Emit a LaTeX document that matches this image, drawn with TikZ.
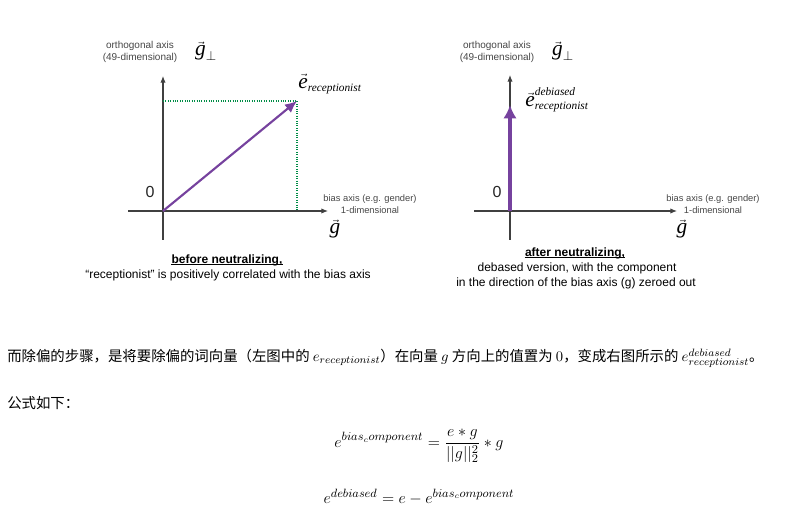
\documentclass[tikz,border=0pt]{standalone}
\usepackage{fontspec}
\setmainfont{Liberation Sans}
\newfontfamily\cjk{Noto Sans CJK SC}
\newfontfamily\serifit{Liberation Serif}[ItalicFont=* Italic]
\newcommand{\bigit}{\serifit\itshape\fontsize{16}{18}\selectfont}
\newcommand{\smit}{\serifit\itshape\fontsize{8.5}{10}\selectfont}
\usetikzlibrary{arrows.meta}
\definecolor{vecpurple}{RGB}{118,66,158}
\definecolor{dotgreen}{RGB}{0,140,70}
\definecolor{labelgray}{RGB}{70,70,70}
\begin{document}
\begin{tikzpicture}[x=0.75pt,y=-0.75pt,
  axis/.style={line width=0.8pt,black!75,-{Latex[length=5pt,width=4pt]}},
  small/.style={font=\fontsize{7.5}{9}\selectfont,text=labelgray,align=center,inner sep=0pt},
  tiny/.style={font=\fontsize{7}{8.6}\selectfont,text=labelgray,align=center,inner sep=0pt},
  caption/.style={font=\fontsize{9}{10.8}\selectfont,align=center,inner sep=0pt},
  uline/.style={line width=0.6pt},
  zero/.style={font=\fontsize{12}{13}\selectfont,text=black!85,inner sep=0pt},
  vecsym/.style={inner sep=0pt},
  guide/.style={dotgreen,densely dotted,line width=0.8pt},
  txt/.style={font=\fontsize{10.8}{13}\selectfont,inner sep=0pt,anchor=west},
  formula/.style={font=\fontsize{12.5}{15}\selectfont,inner sep=0pt}]
\useasboundingbox (0,0) rectangle (799,516);

% ---------- left diagram ----------
\coordinate (O1) at (163,211);
\coordinate (Yt1) at (163,76);
\coordinate (Yb1) at (163,240);
\coordinate (Xl1) at (128,211);
\coordinate (Xr1) at (328,211);
\coordinate (E1) at (297,101);
\coordinate (P1) at (163,101);
\coordinate (Q1) at (297,211);
\draw[axis] (Yb1) -- (Yt1);
\draw[axis] (Xl1) -- (Xr1);
\draw[guide] (P1) -- (E1) -- (Q1);
\draw[vecpurple,line width=1.6pt,-{Latex[length=9pt,width=8pt]}] (O1) -- (E1);
\node[small] (orth1) at (140,52) {orthogonal axis\\(49-dimensional)};
\node[vecsym] (gp1) at (206,51) {$\vec{\mbox{\bigit g}}_{\mbox{\fontsize{10}{10}\selectfont$\perp$}}$};
\node[vecsym] (er1) at (330,84) {$\vec{\mbox{\bigit e}}_{\mbox{\smit receptionist}}$};
\node[zero] (z1) at (150,192) {0};
\node[tiny] (b1) at (370,204) {bias axis (e.g. gender)\\1-dimensional};
\node[vecsym] (g1) at (335,229) {$\vec{\mbox{\bigit g}}$};
\node[caption] (c1a) at (227,260) {\textbf{before neutralizing,}};
\draw[uline] ([yshift=-1.2pt]c1a.base west) -- ([yshift=-1.2pt]c1a.base east);
\node[caption] (c1b) at (228,275) {“receptionist” is positively correlated with the bias axis};

% ---------- right diagram ----------
\coordinate (O2) at (510,211);
\coordinate (Yt2) at (510,75);
\coordinate (Yb2) at (510,240);
\coordinate (Xl2) at (474,211);
\coordinate (Xr2) at (677,211);
\coordinate (E2) at (510,105);
\draw[axis] (Yb2) -- (Yt2);
\draw[axis] (Xl2) -- (Xr2);
\draw[vecpurple,line width=2.6pt,-{Latex[length=10pt,width=10pt]}] (O2) -- (E2);
\node[small] (orth2) at (497,52) {orthogonal axis\\(49-dimensional)};
\node[vecsym] (gp2) at (563,51) {$\vec{\mbox{\bigit g}}_{\mbox{\fontsize{10}{10}\selectfont$\perp$}}$};
\node[vecsym] (ed2) at (557,100) {$\vec{\mbox{\bigit e}}^{\mbox{\smit debiased}}_{\mbox{\smit receptionist}}$};
\node[zero] (z2) at (497,192) {0};
\node[tiny] (b2) at (713,204) {bias axis (e.g. gender)\\1-dimensional};
\node[vecsym] (g2) at (682,229) {$\vec{\mbox{\bigit g}}$};
\node[caption] (c2a) at (575,253) {\textbf{after neutralizing,}};
\draw[uline] ([yshift=-1.2pt]c2a.base west) -- ([yshift=-1.2pt]c2a.base east);
\node[caption] (c2b) at (577,268) {debased version, with the component};
\node[caption] (c2c) at (576,283) {in the direction of the bias axis (g) zeroed out};

% ---------- text ----------
\node[txt] (t1) at (7,358) {\cjk 而除偏的步骤，是将要除偏的词向量（左图中的 $e_{receptionist}$）在向量 $g$ 方向上的值置为 $0$，变成右图所示的 $e^{debiased}_{receptionist}$。};
\node[txt] (t2) at (7,403) {\cjk 公式如下：};
\node[formula] (f1) at (419,446) {$\displaystyle e^{bias_component} = \frac{e*g}{||g||_2^2}*g$};
\node[formula] (f2) at (419,497) {$e^{debiased} = e - e^{bias_component}$};
\end{tikzpicture}
\end{document}
